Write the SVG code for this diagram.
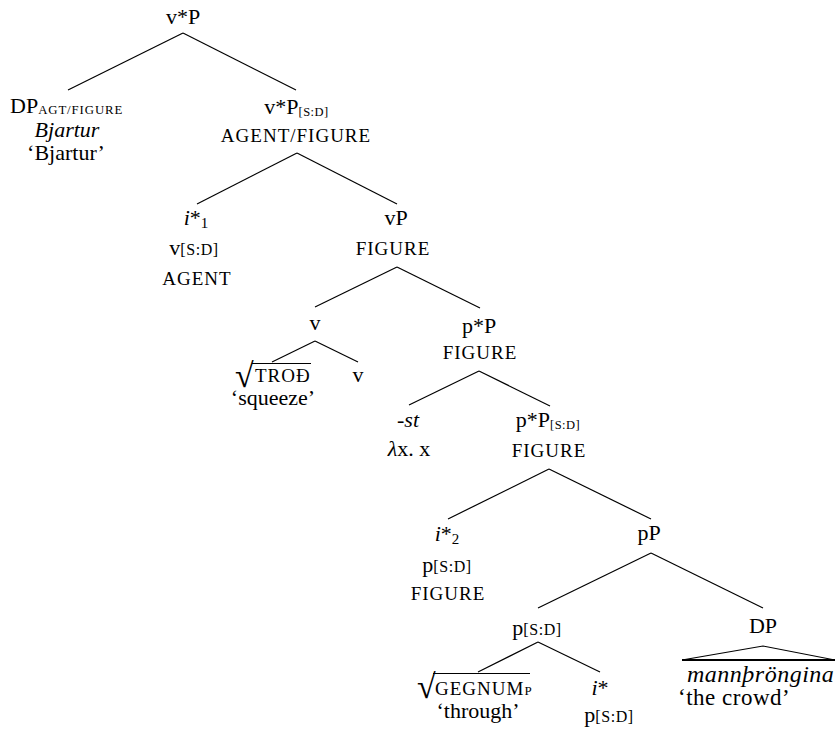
<svg xmlns="http://www.w3.org/2000/svg" width="835" height="731" viewBox="0 0 835 731">
<style>
text { font-family: "Liberation Serif", "Times New Roman", serif; font-size: 22px; fill: #000; text-anchor: middle; }
.l { text-anchor: start; }
.sc { font-size: 19px; letter-spacing: 1px; }
.it { font-style: italic; }
.ss { font-size: 12.5px; letter-spacing: 0.5px; }
.sb { font-size: 16px; letter-spacing: 0.6px; }
.num { font-size: 15px; }
.rad { font-size: 34px; text-anchor: start; }
.edge { stroke: #000; stroke-width: 1.2; fill: none; }
</style>
<rect width="835" height="731" fill="#fff"/>
<g id="connectors">
  <line class="edge" x1="183" y1="33" x2="68" y2="90"/>
  <line class="edge" x1="183" y1="33" x2="296" y2="90"/>
  <line class="edge" x1="297" y1="153" x2="197" y2="204"/>
  <line class="edge" x1="297" y1="153" x2="397" y2="204"/>
  <line class="edge" x1="397" y1="267" x2="315" y2="307"/>
  <line class="edge" x1="397" y1="267" x2="480" y2="308"/>
  <line class="edge" x1="315" y1="341" x2="272" y2="362"/>
  <line class="edge" x1="315" y1="341" x2="358" y2="362"/>
  <line class="edge" x1="479" y1="371" x2="409" y2="405"/>
  <line class="edge" x1="479" y1="371" x2="550" y2="406"/>
  <line class="edge" x1="549" y1="469" x2="448" y2="519"/>
  <line class="edge" x1="549" y1="469" x2="651" y2="519"/>
  <line class="edge" x1="651" y1="553" x2="538" y2="608"/>
  <line class="edge" x1="651" y1="553" x2="763" y2="608"/>
  <line class="edge" x1="538" y1="642" x2="478" y2="672"/>
  <line class="edge" x1="538" y1="642" x2="600" y2="672"/>
</g>
<g id="n-vstarP">
  <text x="183" y="24">v*P</text>
</g>
<g id="n-DP-agt">
  <text class="l" x="10" y="113">DP<tspan style="font-size:12.8px;letter-spacing:0.9px" dy="1">AGT/FIGURE</tspan></text>
  <text class="it" x="67" y="137">Bjartur</text>
  <text x="66" y="160">‘Bjartur’</text>
</g>
<g id="n-vstarP-SD">
  <text x="296.5" y="114">v*P<tspan class="ss" dy="2">[S:D]</tspan></text>
  <text class="sc" x="296" y="142">AGENT/FIGURE</text>
</g>
<g id="n-istar1">
  <text x="196" y="225"><tspan class="it">i</tspan>*<tspan class="num" dy="3">1</tspan></text>
  <text x="194" y="255">v<tspan class="sb">[S:D]</tspan></text>
  <text class="sc" x="197" y="285">AGENT</text>
</g>
<g id="n-vP">
  <text x="396" y="225">vP</text>
  <text class="sc" x="393" y="255">FIGURE</text>
</g>
<g id="n-v">
  <text x="315" y="330">v</text>
</g>
<g id="n-trod">
  <text class="rad" x="235" y="387">√</text>
  <line class="edge" x1="252" y1="363.5" x2="311" y2="363.5"/>
  <text class="sc l" x="255" y="382">TROĐ</text>
  <text x="273" y="405">‘squeeze’</text>
</g>
<g id="n-v2">
  <text x="358" y="382">v</text>
</g>
<g id="n-pstarP">
  <text x="479" y="333">p*P</text>
  <text class="sc" x="480" y="359">FIGURE</text>
</g>
<g id="n-st">
  <text class="it" x="408" y="427">-st</text>
  <text x="409" y="456"><tspan class="it">λ</tspan>x. x</text>
</g>
<g id="n-pstarP-SD">
  <text x="548" y="427">p*P<tspan class="ss" dy="2">[S:D]</tspan></text>
  <text class="sc" x="549" y="457">FIGURE</text>
</g>
<g id="n-istar2">
  <text x="447" y="541"><tspan class="it">i</tspan>*<tspan class="num" dy="3">2</tspan></text>
  <text x="447" y="572">p<tspan class="sb">[S:D]</tspan></text>
  <text class="sc" x="448" y="600">FIGURE</text>
</g>
<g id="n-pP">
  <text x="649" y="540">pP</text>
</g>
<g id="n-pSD">
  <text x="537" y="635">p<tspan class="sb">[S:D]</tspan></text>
</g>
<g id="n-DP">
  <text x="763" y="633">DP</text>
  <polyline class="edge" points="682,660 763,646 835,660"/>
  <line x1="682" y1="660" x2="835" y2="660" stroke="#000" stroke-width="2"/>
  <text class="it l" x="687" y="682" style="font-size:24px;letter-spacing:0.5px">mannþröngina</text>
  <text class="l" x="678" y="705" style="font-size:23px;letter-spacing:0.5px">‘the crowd’</text>
</g>
<g id="n-gegnum">
  <text class="rad" x="417" y="698">√</text>
  <line class="edge" x1="433" y1="673.5" x2="530" y2="673.5"/>
  <text class="sc l" x="435" y="695">GEGNUM<tspan style="font-size:13px;letter-spacing:0">P</tspan></text>
  <text x="478" y="718">‘through’</text>
</g>
<g id="n-istar">
  <text x="600" y="695"><tspan class="it">i</tspan>*</text>
  <text x="609" y="722">p<tspan class="sb">[S:D]</tspan></text>
</g>
</svg>
